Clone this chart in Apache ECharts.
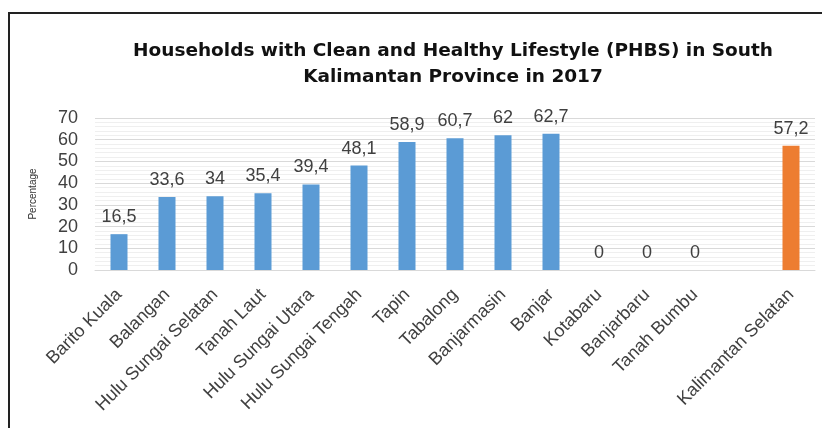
<!DOCTYPE html>
<html><head><meta charset="utf-8">
<script src="https://cdn.jsdelivr.net/npm/echarts@6/dist/echarts.min.js"></script>
<style>
html,body{margin:0;padding:0;background:#fff;overflow:hidden}
#frame{position:absolute;left:8px;top:12px;width:900px;height:500px;border:2px solid #222;box-sizing:border-box}
#c{position:absolute;left:0;top:0;width:822px;height:428px}
</style></head>
<body><div id="frame"></div><div id="c"></div>
<script>
const categories = ['Barito Kuala','Balangan','Hulu Sungai Selatan','Tanah Laut','Hulu Sungai Utara','Hulu Sungai Tengah','Tapin','Tabalong','Banjarmasin','Banjar','Kotabaru','Banjarbaru','Tanah Bumbu','','Kalimantan Selatan'];
const values = [16.5,33.6,34,35.4,39.4,48.1,58.9,60.7,62,62.7,0,0,0,null,57.2];
const highlightIndex = 14;
const chart = echarts.init(document.getElementById('c'));
chart.setOption({
  animation:false,
  title:{text:'Households with Clean and Healthy Lifestyle (PHBS) in South\nKalimantan Province in 2017',left:448,top:33,textAlign:'center',
    textStyle:{fontFamily:'DejaVu Sans',fontWeight:'bold',fontSize:18.5,lineHeight:26,color:'#111'}},
  grid:{left:95,right:7,top:118,bottom:158},
  xAxis:{type:'category',data:categories,
    axisLine:{lineStyle:{color:'#d9d9d9'}},axisTick:{show:false},
    axisLabel:{interval:0,rotate:45,fontFamily:'Liberation Sans, Arial',fontSize:18,color:'#404040',margin:22}},
  yAxis:{type:'value',min:0,max:70,interval:10,name:'Percentage',nameLocation:'middle',nameGap:57,
    nameTextStyle:{fontFamily:'Liberation Sans, Arial',fontSize:10,color:'#333'},
    axisLabel:{fontFamily:'Liberation Sans, Arial',fontSize:18,color:'#404040',margin:17},
    axisLine:{show:false},axisTick:{show:false},
    splitLine:{lineStyle:{color:'#d9d9d9'}},
    minorTick:{show:false,splitNumber:5},
    minorSplitLine:{show:true,lineStyle:{color:'#efefef'}}},
  series:[{type:'bar',barWidth:17,
    data:values.map((v,i)=>({value:v,itemStyle:{color:i===highlightIndex?'#ed7d31':'#5b9bd5'}})),
    label:{show:true,position:'top',distance:8,fontFamily:'Liberation Sans, Arial',fontSize:18,color:'#404040',
      formatter:p=>p.value==null?'':String(p.value).replace('.',',')}}]
});
</script></body></html>
